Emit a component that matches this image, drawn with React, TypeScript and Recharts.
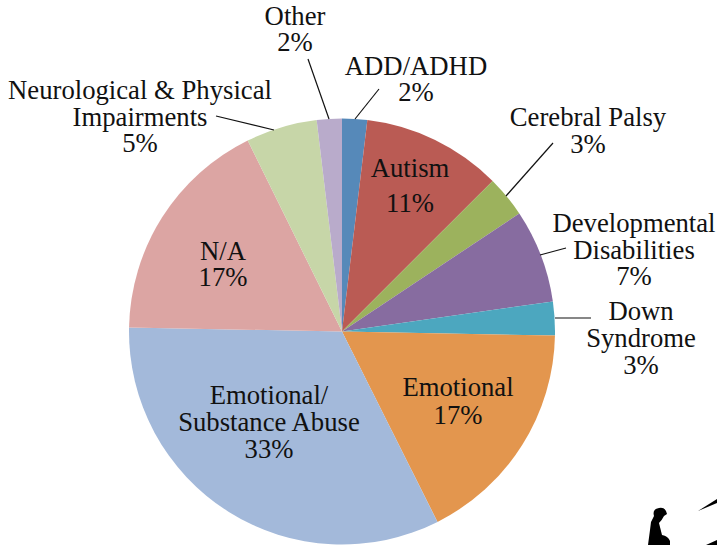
import React from 'react';
import { PieChart, Pie, Cell } from 'recharts';

const categories = [
  'ADD/ADHD',
  'Autism',
  'Cerebral Palsy',
  'Developmental Disabilities',
  'Down Syndrome',
  'Emotional',
  'Emotional/ Substance Abuse',
  'N/A',
  'Neurological & Physical Impairments',
  'Other',
];
const shares = [1.9, 10.6, 3.15, 7.1, 2.55, 17.3, 32.7, 17.4, 5.4, 1.9];
const shownPercents = ['2%', '11%', '3%', '7%', '3%', '17%', '33%', '17%', '5%', '2%'];
const colors = ['#5689B9', '#BA5B54', '#9CB25D', '#876CA0', '#4CA7BF', '#E3964E', '#A3B9DA', '#DCA5A3', '#C7D6A8', '#B9ABCB'];

// label placement: centre x, first baseline, line gap, wrapped text
const labelLayout = [
  { x: 416, y: 75, gap: 26, lines: ['ADD/ADHD'] },
  { x: 410, y: 177, gap: 35, lines: ['Autism'] },
  { x: 588, y: 126, gap: 27, lines: ['Cerebral Palsy'] },
  { x: 634, y: 232, gap: 26.5, lines: ['Developmental', 'Disabilities'] },
  { x: 641, y: 320, gap: 27, lines: ['Down', 'Syndrome'] },
  { x: 458, y: 396, gap: 28, lines: ['Emotional'] },
  { x: 269, y: 404, gap: 27, lines: ['Emotional/', 'Substance Abuse'] },
  { x: 223, y: 260, gap: 26, lines: ['N/A'] },
  { x: 140, y: 99, gap: 26.5, lines: ['Neurological & Physical', 'Impairments'] },
  { x: 295, y: 25, gap: 26, lines: ['Other'] },
];

const leaders: Record<number, number[]> = {
  0: [379, 89, 355, 119],
  2: [553, 143, 506, 196],
  3: [566, 248, 540, 255],
  4: [591, 318, 555, 318],
  8: [216, 116, 274, 130],
  9: [308, 59, 329, 119],
};

const data = categories.map((name, i) => ({ name, value: shares[i] }));

const renderLabel = ({ index }: any) => {
  const l = labelLayout[index];
  const all = [...l.lines, shownPercents[index]];
  const line = leaders[index];
  return (
    <g key={index}>
      {line && <line x1={line[0]} y1={line[1]} x2={line[2]} y2={line[3]} stroke="#111" strokeWidth={1.2} />}
      <text textAnchor="middle" fontFamily="Liberation Serif" fontSize={26.7} fill="#111">
        {all.map((t, i) => (
          <tspan key={i} x={l.x} y={l.y + i * l.gap}>{t}</tspan>
        ))}
      </text>
    </g>
  );
};

export default function App() {
  return (
    <div style={{ position: 'absolute', left: 0, top: 0, width: 717, height: 545, overflow: 'hidden', background: '#fff' }}>
      <PieChart width={717} height={545} margin={{ top: 0, right: 0, bottom: 0, left: 0 }}>
        <Pie
          data={data}
          dataKey="value"
          nameKey="name"
          cx={342}
          cy={331.5}
          outerRadius={213}
          startAngle={90}
          endAngle={-270}
          stroke="none"
          label={renderLabel}
          labelLine={false}
          isAnimationActive={false}
        >
          {data.map((d, i) => (
            <Cell key={d.name} fill={colors[i]} />
          ))}
        </Pie>
      </PieChart>
      {/* bit of clip art cut off in the corner of the source image */}
      <svg width={717} height={545} style={{ position: 'absolute', left: 0, top: 0 }}>
        <path
          d="M648 545 L650 530 L651 522 L654 516 Q652 509 659 508 Q664 507 666 511 L667 514 L664 516 Q662 520 659 523 L662 535 Q668 536 670 541 L670 545 Z"
          fill="#000"
        />
        <path d="M698 511 L717 499 L717 503 Z" fill="#000" />
        <path d="M706 545 L717 540 L717 545 Z" fill="#000" />
      </svg>
    </div>
  );
}
